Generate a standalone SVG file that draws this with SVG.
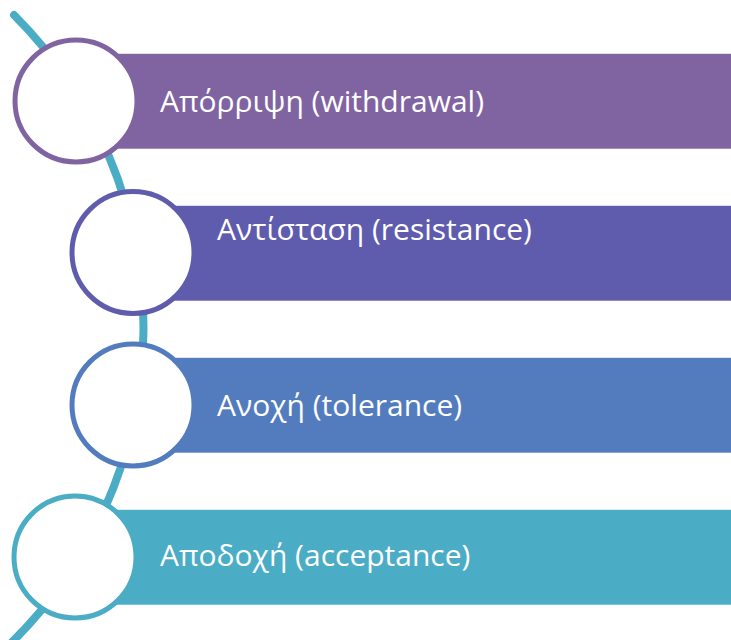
<svg xmlns="http://www.w3.org/2000/svg" width="731" height="640" viewBox="0 0 731 640">
<style>
.bar{stroke:#ffffff;stroke-opacity:0.6;stroke-width:1}
.ring{fill:#ffffff;stroke-width:5}
.lbl{font-family:"Open Sans","Noto Sans","DejaVu Sans",sans-serif;font-size:30px;fill:#ffffff}
</style>
<rect width="731" height="640" fill="#ffffff"/>
<g id="connectors">
<path d="M 14 15 A 442 442 0 0 1 8 646" fill="none" stroke="#4BACC6" stroke-width="8" stroke-linecap="round"/>
</g>
<g id="node1">
<rect class="bar" x="110" y="53.5" width="640" height="95.5" fill="#8064A2"/>
<circle class="ring" cx="76" cy="101" r="61" stroke="#8064A2"/>
<text class="lbl" x="160" y="112">Απόρριψη (withdrawal)</text>
</g>
<g id="node2">
<rect class="bar" x="168" y="205.5" width="580" height="95.5" fill="#5F5BAD"/>
<circle class="ring" cx="133" cy="252.5" r="61" stroke="#5F5BAD"/>
<text class="lbl" x="217" y="240">Αντίσταση (resistance)</text>
</g>
<g id="node3">
<rect class="bar" x="168" y="357.5" width="580" height="95.5" fill="#537CBE"/>
<circle class="ring" cx="133" cy="405" r="61" stroke="#537CBE"/>
<text class="lbl" x="217" y="416">Ανοχή (tolerance)</text>
</g>
<g id="node4">
<rect class="bar" x="110" y="509.5" width="640" height="95.5" fill="#4BACC6"/>
<circle class="ring" cx="75" cy="557" r="61" stroke="#4BACC6"/>
<text class="lbl" x="160" y="566">Αποδοχή (acceptance)</text>
</g>
</svg>
